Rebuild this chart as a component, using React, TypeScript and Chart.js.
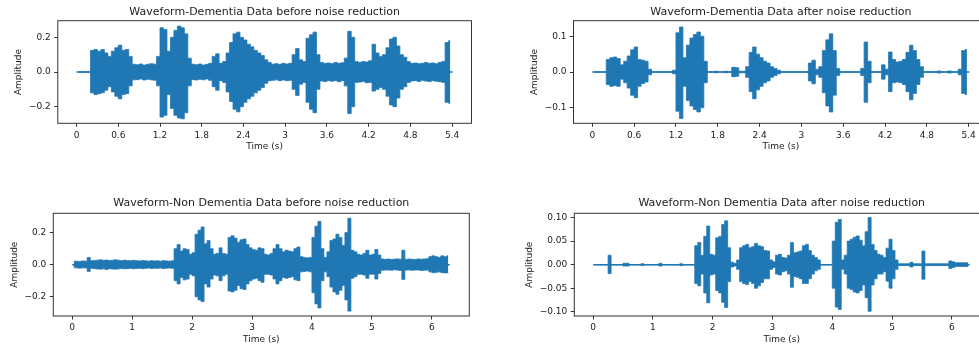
import React, { useEffect, useRef } from 'react';
import { Chart, registerables } from 'chart.js';

Chart.register(...registerables);

// ---------- data ----------
const TIME_STEP = 0.05; // width of each envelope bin (s)
const DEM_DURATION = 5.41;
const NON_DURATION = 6.3;

const DEM_X_TICKS = [0, 0.6, 1.2, 1.8, 2.4, 3.0, 3.6, 4.2, 4.8, 5.4];
const DEM_X_LABELS = ['0', '0.6', '1.2', '1.8', '2.4', '3', '3.6', '4.2', '4.8', '5.4'];
const NON_X_TICKS = [0, 1, 2, 3, 4, 5, 6];
const NON_X_LABELS = ['0', '1', '2', '3', '4', '5', '6'];

const Y_TICKS_02 = [-0.2, 0.0, 0.2];
const Y_LABELS_02 = ['\u22120.2', '0.0', '0.2'];
const Y_TICKS_01 = [-0.1, 0.0, 0.1];
const Y_LABELS_01 = ['\u22120.1', '0.0', '0.1'];
const Y_TICKS_005 = [-0.1, -0.05, 0.0, 0.05, 0.1];
const Y_LABELS_005 = ['\u22120.10', '\u22120.05', '0.00', '0.05', '0.10'];

// Dementia, before noise reduction (envelope per 0.05 s bin)
const DEM_BEFORE_UPPER = [
  0, 0, 0, 0,
  0.125, 0.13, 0.12, 0.13, 0.11, 0.09, 0.12, 0.14, 0.155, 0.125, 0.13, 0.09,
  0.045, 0.042, 0.046, 0.04, 0.044, 0.048, 0.045,
  0.09, 0.255, 0.245, 0.12, 0.2, 0.24, 0.265, 0.255, 0.22, 0.08,
  0.045, 0.042, 0.046, 0.04, 0.044, 0.05,
  0.09, 0.105, 0.05, 0.06, 0.11, 0.17, 0.22, 0.23, 0.2, 0.185, 0.16, 0.145, 0.125, 0.11, 0.095, 0.07, 0.055,
  0.045, 0.048, 0.044, 0.05, 0.046, 0.05,
  0.1, 0.135, 0.07, 0.06, 0.195, 0.215, 0.23, 0.1,
  0.055, 0.05, 0.052, 0.048, 0.055, 0.05, 0.053,
  0.08, 0.235, 0.2, 0.06,
  0.055, 0.06, 0.058, 0.065,
  0.16, 0.11, 0.09, 0.1, 0.14, 0.19, 0.2, 0.15, 0.1, 0.085, 0.06,
  0.05, 0.052, 0.048, 0.05, 0.055, 0.05, 0.052, 0.048, 0.055, 0.06,
  0.17, 0.18,
];
const DEM_BEFORE_LOWER = [
  0, 0, 0, 0,
  -0.12, -0.13, -0.125, -0.12, -0.105, -0.085, -0.115, -0.14, -0.155, -0.13, -0.125, -0.08,
  -0.045, -0.044, -0.04, -0.046, -0.042, -0.045, -0.047,
  -0.08, -0.26, -0.25, -0.13, -0.21, -0.25, -0.265, -0.27, -0.235, -0.08,
  -0.044, -0.046, -0.042, -0.045, -0.04, -0.048,
  -0.085, -0.105, -0.05, -0.06, -0.115, -0.17, -0.215, -0.23, -0.2, -0.175, -0.155, -0.14, -0.12, -0.105, -0.09, -0.065, -0.05,
  -0.048, -0.045, -0.05, -0.046, -0.05, -0.048,
  -0.1, -0.135, -0.07, -0.06, -0.175, -0.215, -0.235, -0.1,
  -0.052, -0.055, -0.05, -0.053, -0.05, -0.056, -0.05,
  -0.08, -0.24, -0.2, -0.06,
  -0.058, -0.055, -0.062, -0.06,
  -0.11, -0.1, -0.09, -0.1, -0.14, -0.19, -0.2, -0.15, -0.1, -0.085, -0.06,
  -0.052, -0.05, -0.055, -0.048, -0.052, -0.055, -0.05, -0.053, -0.056, -0.06,
  -0.175, -0.18,
];

// Dementia, after noise reduction
const DEM_AFTER_UPPER = [
  0, 0, 0, 0,
  0.035, 0.04, 0.042, 0.038, 0.02, 0.03, 0.045, 0.062, 0.07, 0.035, 0.033, 0.03, 0.008,
  0, 0, 0, 0, 0, 0, 0.005,
  0.11, 0.126, 0.04, 0.075, 0.095, 0.105, 0.112, 0.1, 0.03,
  0, 0, 0.002, 0, 0, 0.002, 0,
  0.013, 0.012, 0.002, 0.002,
  0.015, 0.055, 0.07, 0.05, 0.04, 0.03, 0.025, 0.015, 0.01, 0.005,
  0, 0, 0, 0, 0, 0, 0, 0,
  0.025, 0.033, 0.008, 0.015, 0.06, 0.09, 0.107, 0.06, 0.01,
  0, 0, 0, 0, 0, 0,
  0.01, 0.084, 0.03,
  0, 0, 0,
  0.02, 0.008, 0.056, 0.035, 0.028, 0.03, 0.035, 0.055, 0.075, 0.06, 0.035, 0.015,
  0, 0, 0, 0, 0.003, 0, 0, 0.003, 0, 0,
  0.008, 0.06, 0.063,
];
const DEM_AFTER_LOWER = [
  0, 0, 0, 0,
  -0.035, -0.04, -0.038, -0.04, -0.02, -0.03, -0.045, -0.065, -0.072, -0.04, -0.032, -0.028, -0.008,
  0, 0, 0, 0, 0, 0, -0.005,
  -0.11, -0.13, -0.04, -0.08, -0.095, -0.105, -0.112, -0.1, -0.03,
  0, 0, -0.002, 0, 0, -0.002, 0,
  -0.013, -0.012, -0.002, -0.002,
  -0.015, -0.055, -0.075, -0.05, -0.04, -0.03, -0.025, -0.015, -0.01, -0.005,
  0, 0, 0, 0, 0, 0, 0, 0,
  -0.025, -0.033, -0.008, -0.015, -0.058, -0.095, -0.112, -0.065, -0.01,
  0, 0, 0, 0, 0, 0,
  -0.01, -0.085, -0.03,
  0, 0, 0,
  -0.02, -0.008, -0.055, -0.03, -0.028, -0.03, -0.035, -0.055, -0.078, -0.06, -0.035, -0.015,
  0, 0, 0, 0, -0.003, 0, 0, -0.003, 0, 0,
  -0.008, -0.06, -0.063,
];

// Non dementia, before noise reduction
const NON_BEFORE_UPPER = [
  0.02, 0.022, 0.02, 0.023, 0.022,
  0.045,
  0.024, 0.026, 0.028, 0.03, 0.027, 0.029, 0.026, 0.028, 0.03, 0.027, 0.025, 0.028, 0.026, 0.024,
  0.027, 0.025, 0.023, 0.026, 0.024, 0.022, 0.025, 0.023, 0.024, 0.022, 0.025, 0.023, 0.022, 0.024,
  0.1, 0.125, 0.085, 0.1, 0.095, 0.065, 0.075, 0.19, 0.215, 0.235, 0.13, 0.15, 0.1, 0.065, 0.07,
  0.105, 0.07, 0.065, 0.17, 0.18, 0.165, 0.14, 0.155, 0.16, 0.125, 0.105, 0.095,
  0.09, 0.105, 0.1, 0.065, 0.06, 0.07, 0.1, 0.125, 0.1, 0.08, 0.09, 0.085, 0.08, 0.1, 0.11, 0.05, 0.045, 0.042, 0.045,
  0.17, 0.24, 0.27, 0.1, 0.045, 0.08, 0.15, 0.16, 0.19, 0.17, 0.12, 0.2, 0.29, 0.09, 0.08, 0.065,
  0.06, 0.07, 0.09, 0.06, 0.065, 0.095, 0.06, 0.035,
  0.033, 0.035, 0.032, 0.034, 0.036, 0.034,
  0.09,
  0.033, 0.035, 0.034, 0.032, 0.036, 0.034, 0.035, 0.037,
  0.05,
  0.055, 0.05, 0.045, 0.055, 0.05, 0.055,
];
const NON_BEFORE_LOWER = [
  -0.018, -0.02, -0.022, -0.02, -0.021,
  -0.042,
  -0.022, -0.025, -0.027, -0.028, -0.026, -0.03, -0.025, -0.027, -0.028, -0.026, -0.024, -0.026, -0.025, -0.023,
  -0.026, -0.024, -0.022, -0.025, -0.023, -0.021, -0.024, -0.022, -0.023, -0.021, -0.024, -0.022, -0.021, -0.023,
  -0.1, -0.12, -0.08, -0.095, -0.09, -0.06, -0.07, -0.2, -0.22, -0.23, -0.12, -0.14, -0.09, -0.065, -0.07,
  -0.1, -0.07, -0.06, -0.165, -0.17, -0.16, -0.13, -0.15, -0.155, -0.12, -0.1, -0.09,
  -0.085, -0.1, -0.11, -0.06, -0.06, -0.065, -0.09, -0.12, -0.1, -0.08, -0.085, -0.08, -0.075, -0.095, -0.1, -0.045, -0.042, -0.04, -0.045,
  -0.175, -0.245, -0.27, -0.1, -0.045, -0.075, -0.14, -0.17, -0.185, -0.16, -0.13, -0.22, -0.29, -0.085, -0.075, -0.06,
  -0.06, -0.065, -0.085, -0.06, -0.06, -0.09, -0.055, -0.035,
  -0.034, -0.033, -0.035, -0.032, -0.034, -0.036,
  -0.092,
  -0.034, -0.033, -0.035, -0.034, -0.033, -0.036, -0.035, -0.034,
  -0.045,
  -0.05, -0.048, -0.045, -0.05, -0.052, -0.05,
];

// Non dementia, after noise reduction
const NON_AFTER_UPPER = [
  0, 0, 0, 0, 0,
  0.02,
  0, 0, 0, 0, 0.003, 0.003, 0, 0, 0, 0, 0.002, 0, 0, 0,
  0, 0, 0.003, 0, 0, 0, 0, 0, 0, 0.002, 0, 0, 0, 0,
  0.04, 0.047, 0.02, 0.06, 0.082, 0.022, 0.02, 0.057, 0.06, 0.085, 0.093, 0.036, 0.005, 0.003, 0.01,
  0.036, 0.04, 0.043, 0.036, 0.038, 0.045, 0.04, 0.038, 0.03, 0.029, 0.01, 0.006,
  0.02, 0.022, 0.015, 0.014, 0.02, 0.047, 0.025, 0.027, 0.029, 0.04, 0.043, 0.03, 0.02, 0.015, 0.01, 0, 0, 0, 0,
  0.05, 0.09, 0.096, 0.01, 0.02, 0.05, 0.054, 0.058, 0.061, 0.052, 0.04, 0.07, 0.1, 0.043, 0.03, 0.022,
  0.02, 0.015, 0.035, 0.054, 0.03, 0.01, 0.002, 0.002,
  0.002, 0.002, 0.005, 0.002, 0.002, 0.002,
  0.029,
  0.002, 0.002, 0.002, 0.002, 0.002, 0.002, 0.002, 0.002,
  0.008,
  0.006, 0.004, 0.004, 0.004, 0.004, 0.004,
];
const NON_AFTER_LOWER = [
  0, 0, 0, 0, 0,
  -0.019,
  0, 0, 0, 0, -0.003, -0.003, 0, 0, 0, 0, -0.002, 0, 0, 0,
  0, 0, -0.003, 0, 0, 0, 0, 0, 0, -0.002, 0, 0, 0, 0,
  -0.04, -0.045, -0.02, -0.06, -0.081, -0.022, -0.02, -0.055, -0.06, -0.08, -0.091, -0.036, -0.005, -0.003, -0.01,
  -0.036, -0.04, -0.042, -0.036, -0.04, -0.05, -0.045, -0.038, -0.03, -0.03, -0.01, -0.006,
  -0.02, -0.022, -0.015, -0.013, -0.02, -0.048, -0.025, -0.027, -0.03, -0.04, -0.04, -0.03, -0.02, -0.013, -0.01, 0, 0, 0, 0,
  -0.05, -0.09, -0.095, -0.01, -0.02, -0.05, -0.053, -0.058, -0.06, -0.055, -0.043, -0.07, -0.099, -0.043, -0.03, -0.02,
  -0.02, -0.015, -0.035, -0.05, -0.03, -0.01, -0.002, -0.002,
  -0.002, -0.002, -0.005, -0.002, -0.002, -0.002,
  -0.031,
  -0.002, -0.002, -0.002, -0.002, -0.002, -0.002, -0.002, -0.002,
  -0.008,
  -0.006, -0.004, -0.004, -0.004, -0.004, -0.004,
];

// ---------- styling / layout ----------
const BLUE = '#1f77b4';
const INK = '#222222';
const FRAME = '#333333';
const FONT = "'DejaVu Sans', 'Liberation Sans', sans-serif";

type PanelSpec = {
  left: number; top: number; width: number; height: number;
  title: string;
  upper: number[]; lower: number[]; duration: number;
  xMin: number; xMax: number; yMin: number; yMax: number;
  xTicks: number[]; xLabels: string[]; yTicks: number[]; yLabels: string[];
  yAxisWidth: number; yTitlePad: number; padRight: number;
  titlePadTop: number; titlePadBottom: number;
  xAxisHeight: number; xTitlePadBottom: number; padBottom: number;
};

const PANELS: PanelSpec[] = [
  {
    left: 0, top: 0, width: 490, height: 170,
    title: 'Waveform-Dementia Data before noise reduction',
    upper: DEM_BEFORE_UPPER, lower: DEM_BEFORE_LOWER, duration: DEM_DURATION,
    xMin: -0.27, xMax: 5.68, yMin: -0.296, yMax: 0.296,
    xTicks: DEM_X_TICKS, xLabels: DEM_X_LABELS, yTicks: Y_TICKS_02, yLabels: Y_LABELS_02,
    yAxisWidth: 57.8, yTitlePad: 13.6, padRight: 18.5,
    titlePadTop: 5.1, titlePadBottom: 2.4,
    xAxisHeight: 30, xTitlePadBottom: 1.2, padBottom: 16.7,
  },
  {
    left: 480, top: 0, width: 520, height: 170,
    title: 'Waveform-Dementia Data after noise reduction',
    upper: DEM_AFTER_UPPER, lower: DEM_AFTER_LOWER, duration: DEM_DURATION,
    xMin: -0.27, xMax: 5.68, yMin: -0.1437, yMax: 0.1437,
    xTicks: DEM_X_TICKS, xLabels: DEM_X_LABELS, yTicks: Y_TICKS_01, yLabels: Y_LABELS_01,
    yAxisWidth: 93.5, yTitlePad: 49.6, padRight: 11.8,
    titlePadTop: 5.1, titlePadBottom: 2.4,
    xAxisHeight: 30, xTitlePadBottom: 1.2, padBottom: 16.7,
  },
  {
    left: 0, top: 190, width: 490, height: 157,
    title: 'Waveform-Non Dementia Data before noise reduction',
    upper: NON_BEFORE_UPPER, lower: NON_BEFORE_LOWER, duration: NON_DURATION,
    xMin: -0.3155, xMax: 6.6255, yMin: -0.3205, yMax: 0.3205,
    xTicks: NON_X_TICKS, xLabels: NON_X_LABELS, yTicks: Y_TICKS_02, yLabels: Y_LABELS_02,
    yAxisWidth: 53.3, yTitlePad: 9.6, padRight: 20.7,
    titlePadTop: 6.7, titlePadBottom: 3.4,
    xAxisHeight: 30, xTitlePadBottom: 0.6, padBottom: 1,
  },
  {
    left: 480, top: 190, width: 520, height: 157,
    title: 'Waveform-Non Dementia Data after noise reduction',
    upper: NON_AFTER_UPPER, lower: NON_AFTER_LOWER, duration: NON_DURATION,
    xMin: -0.3155, xMax: 6.6255, yMin: -0.109, yMax: 0.109,
    xTicks: NON_X_TICKS, xLabels: NON_X_LABELS, yTicks: Y_TICKS_005, yLabels: Y_LABELS_005,
    yAxisWidth: 94.3, yTitlePad: 43.9, padRight: 10.8,
    titlePadTop: 6.7, titlePadBottom: 3.4,
    xAxisHeight: 30, xTitlePadBottom: 0.6, padBottom: 1,
  },
];

const framePlugin = {
  id: 'frame',
  afterDatasetsDraw(chart: any) {
    const { ctx, chartArea: a } = chart;
    ctx.save();
    ctx.strokeStyle = FRAME;
    ctx.lineWidth = 1;
    ctx.strokeRect(a.left, a.top, a.right - a.left, a.bottom - a.top);
    ctx.restore();
  },
};

function Panel({ spec }: { spec: PanelSpec }) {
  const ref = useRef<HTMLCanvasElement | null>(null);

  useEffect(() => {
    if (!ref.current) return;
    const times = spec.upper.map((_u, i) => i * TIME_STEP + TIME_STEP / 2);
    const upperPts = spec.upper.map((u, i) => ({ x: times[i], y: u }));
    const lowerPts = spec.lower.map((l, i) => ({ x: times[i], y: l }));
    const baseline = [
      { x: 0, y: 0 },
      { x: spec.duration, y: 0 },
    ];
    const tickFont = { family: FONT, size: 9 };
    const chart = new Chart(ref.current, {
      type: 'line',
      data: {
        datasets: [
          {
            data: baseline,
            borderColor: BLUE,
            borderWidth: 1.5,
            pointRadius: 0,
            fill: false,
          },
          {
            data: upperPts,
            borderColor: BLUE,
            backgroundColor: BLUE,
            borderWidth: 0.8,
            pointRadius: 0,
            stepped: 'middle',
            fill: '+1',
          },
          {
            data: lowerPts,
            borderColor: BLUE,
            backgroundColor: BLUE,
            borderWidth: 0.8,
            pointRadius: 0,
            stepped: 'middle',
            fill: false,
          },
        ],
      },
      options: {
        responsive: false,
        animation: false,
        events: [],
        layout: { padding: { left: 0, top: 0, right: spec.padRight, bottom: spec.padBottom } },
        plugins: {
          legend: { display: false },
          tooltip: { enabled: false },
          title: {
            display: true,
            text: spec.title,
            color: INK,
            fullSize: false,
            font: { family: FONT, size: 11, weight: 'normal' },
            padding: { top: spec.titlePadTop, bottom: spec.titlePadBottom },
          },
        },
        scales: {
          x: {
            type: 'linear',
            min: spec.xMin,
            max: spec.xMax,
            offset: false,
            grid: {
              display: true,
              drawOnChartArea: false,
              drawTicks: true,
              tickLength: 3.5,
              tickColor: FRAME,
              tickWidth: 1,
            },
            border: { display: false },
            afterBuildTicks: (scale: any) => {
              scale.ticks = spec.xTicks.map((v) => ({ value: v }));
            },
            afterFit: (scale: any) => {
              scale.height = spec.xAxisHeight;
            },
            ticks: {
              autoSkip: false,
              maxRotation: 0,
              padding: 3,
              color: INK,
              font: tickFont,
              callback: (_v: any, idx: number) => spec.xLabels[idx],
            },
            title: {
              display: true,
              text: 'Time (s)',
              color: INK,
              font: { family: FONT, size: 9 },
              padding: { top: 0, bottom: spec.xTitlePadBottom },
            },
          },
          y: {
            type: 'linear',
            min: spec.yMin,
            max: spec.yMax,
            grid: {
              display: true,
              drawOnChartArea: false,
              drawTicks: true,
              tickLength: 3.5,
              tickColor: FRAME,
              tickWidth: 1,
            },
            border: { display: false },
            afterBuildTicks: (scale: any) => {
              scale.ticks = spec.yTicks.map((v) => ({ value: v }));
            },
            afterFit: (scale: any) => {
              scale.width = spec.yAxisWidth;
            },
            ticks: {
              autoSkip: false,
              padding: 3.5,
              color: INK,
              font: tickFont,
              callback: (_v: any, idx: number) => spec.yLabels[idx],
            },
            title: {
              display: true,
              text: 'Amplitude',
              color: INK,
              font: { family: FONT, size: 9 },
              padding: { top: spec.yTitlePad, bottom: 0 },
            },
          },
        },
      } as any,
      plugins: [framePlugin],
    });
    return () => chart.destroy();
  }, [spec]);

  return (
    <canvas
      ref={ref}
      width={spec.width}
      height={spec.height}
      style={{
        position: 'absolute',
        left: spec.left,
        top: spec.top,
        width: spec.width,
        height: spec.height,
      }}
    />
  );
}

export default function App() {
  return (
    <div
      style={{
        position: 'fixed',
        left: 0,
        top: 0,
        width: 979,
        height: 347,
        overflow: 'hidden',
        background: '#ffffff',
      }}
    >
      {PANELS.map((p, i) => (
        <Panel key={i} spec={p} />
      ))}
    </div>
  );
}
